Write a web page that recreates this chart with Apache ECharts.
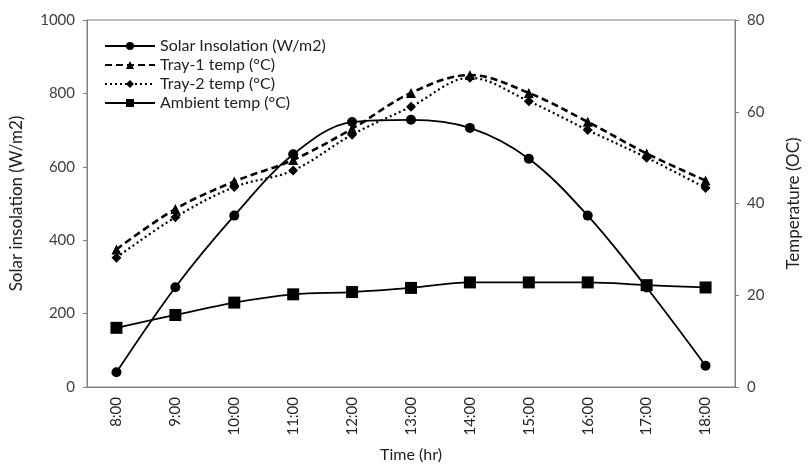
<!DOCTYPE html>
<html>
<head>
<meta charset="utf-8">
<script src="https://cdn.jsdelivr.net/npm/echarts@6/dist/echarts.min.js"></script>
<style>html,body{margin:0;padding:0;background:#fff}#c{width:810px;height:468px}</style>
</head>
<body>
<div id="c"></div>
<script>
var categories = ['8:00','9:00','10:00','11:00','12:00','13:00','14:00','15:00','16:00','17:00','18:00'];
var solarInsolation = [40, 272, 467, 634, 722, 728, 706, 622, 467, 271, 58];
var tray1Temp = [30.0, 38.8, 44.8, 49.5, 56.3, 64.1, 68.0, 64.1, 57.8, 50.9, 45.0];
var tray2Temp = [28.2, 37.0, 43.6, 47.2, 55.0, 61.1, 67.4, 62.3, 56.0, 50.0, 43.4];
var ambientTemp = [12.9, 15.7, 18.4, 20.2, 20.7, 21.6, 22.8, 22.8, 22.8, 22.2, 21.7];
var leftTicks = [0, 200, 400, 600, 800, 1000];
var rightTicks = [0, 20, 40, 60, 80];

var FONT = 'Lato';
var TXT = '#404040';
var AX = '#7f7f7f';

var chart = echarts.init(document.getElementById('c'), null, {renderer: 'canvas'});
chart.setOption({
  animation: false,
  backgroundColor: '#fff',
  textStyle: {fontFamily: FONT},
  grid: {left: 87, right: 69, top: 20, bottom: 79, show: true, borderColor: AX, borderWidth: 1},
  legend: {
    orient: 'vertical', left: 99, top: 33, itemGap: 3, itemWidth: 50, itemHeight: 10,
    textStyle: {fontFamily: FONT, fontSize: 16, color: '#222'},
    data: ['Solar Insolation (W/m2)', 'Tray-1 temp (°C)', 'Tray-2 temp (°C)', 'Ambient temp (°C)']
  },
  xAxis: {
    type: 'category', data: categories, boundaryGap: true,
    name: 'Time (hr)', nameLocation: 'middle', nameGap: 60,
    nameTextStyle: {fontFamily: FONT, fontSize: 16, color: '#222'},
    axisLine: {lineStyle: {color: AX}},
    axisTick: {inside: true, length: 5, lineStyle: {color: AX}},
    axisLabel: {rotate: 90, fontFamily: FONT, fontSize: 15, color: '#222', margin: 10}
  },
  yAxis: [{
    type: 'value', min: 0, max: 1000, interval: 200,
    name: 'Solar insolation (W/m2)', nameLocation: 'middle', nameGap: 62,
    nameTextStyle: {fontFamily: FONT, fontSize: 17, color: '#222'},
    axisLine: {show: true, lineStyle: {color: AX}},
    axisTick: {show: true, length: 4, lineStyle: {color: AX}},
    axisLabel: {fontFamily: FONT, fontSize: 15, color: TXT, margin: 12,
      formatter: function (v) { return leftTicks.indexOf(v) >= 0 ? String(v) : ''; }},
    splitLine: {show: false}
  }, {
    type: 'value', min: 0, max: 80, interval: 20, position: 'right',
    name: 'Temperature (OC)', nameLocation: 'middle', nameGap: 50, nameRotate: 90,
    nameTextStyle: {fontFamily: FONT, fontSize: 17, color: '#222'},
    axisLine: {show: true, lineStyle: {color: AX}},
    axisTick: {show: true, length: 4, lineStyle: {color: AX}},
    axisLabel: {fontFamily: FONT, fontSize: 15, color: TXT, margin: 12,
      formatter: function (v) { return rightTicks.indexOf(v) >= 0 ? String(v) : ''; }},
    splitLine: {show: false}
  }],
  series: [{
    name: 'Solar Insolation (W/m2)', type: 'line', yAxisIndex: 0, data: solarInsolation,
    smooth: 0.35, symbol: 'circle', symbolSize: 10,
    lineStyle: {color: '#000', width: 1.8, type: 'solid'},
    itemStyle: {color: '#000'}
  }, {
    name: 'Tray-1 temp (°C)', type: 'line', yAxisIndex: 1, data: tray1Temp,
    smooth: 0.35, symbol: 'triangle', symbolSize: 10,
    lineStyle: {color: '#000', width: 2.6, type: [7, 4]},
    itemStyle: {color: '#000'}
  }, {
    name: 'Tray-2 temp (°C)', type: 'line', yAxisIndex: 1, data: tray2Temp,
    smooth: 0.35, symbol: 'diamond', symbolSize: 10,
    lineStyle: {color: '#000', width: 2.2, type: [2, 3]},
    itemStyle: {color: '#000'}
  }, {
    name: 'Ambient temp (°C)', type: 'line', yAxisIndex: 1, data: ambientTemp,
    smooth: 0.35, symbol: 'rect', symbolSize: 12,
    lineStyle: {color: '#000', width: 1.8, type: 'solid'},
    itemStyle: {color: '#000'}
  }]
});
</script>
</body>
</html>
